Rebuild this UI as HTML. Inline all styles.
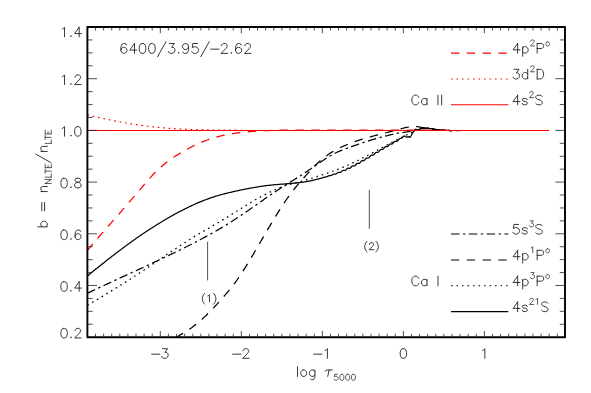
<!DOCTYPE html>
<html><head><meta charset="utf-8"><title>Departure coefficients</title>
<style>html,body{margin:0;padding:0;background:#fff}body{width:591px;height:393px;overflow:hidden;font-family:"Liberation Sans",sans-serif}svg{display:block}</style>
</head><body>
<svg width="591" height="393" viewBox="0 0 591 393">
<rect width="591" height="393" fill="#fff"/>
<defs><clipPath id="c"><rect x="87.4" y="27.0" width="477.6" height="310.2"/></clipPath></defs>
<g clip-path="url(#c)" fill="none" stroke-width="1.25" stroke-linejoin="round">
<path d="M87.4 305.3 L88.9 304.4 L90.4 303.5 L91.9 302.6 L93.4 301.7 L94.9 300.9 L96.4 300.0 L97.9 299.1 L99.4 298.2 L100.9 297.3 L102.4 296.4 L103.9 295.5 L105.4 294.6 L106.9 293.6 L108.4 292.7 L109.9 291.8 L111.4 290.9 L112.9 290.0 L114.4 289.1 L115.9 288.1 L117.4 287.2 L118.9 286.3 L120.4 285.3 L121.9 284.4 L123.4 283.5 L124.9 282.5 L126.4 281.6 L127.9 280.6 L129.4 279.6 L130.9 278.7 L132.4 277.7 L133.9 276.7 L135.4 275.8 L136.9 274.8 L138.4 273.8 L139.9 272.8 L141.4 271.8 L142.9 270.8 L144.4 269.8 L145.9 268.8 L147.4 267.8 L148.9 266.8 L150.4 265.7 L151.9 264.7 L153.4 263.7 L154.9 262.7 L156.4 261.7 L157.9 260.6 L159.4 259.6 L160.9 258.6 L162.4 257.6 L163.9 256.6 L165.4 255.5 L166.9 254.5 L168.4 253.5 L169.9 252.5 L171.4 251.5 L172.9 250.5 L174.4 249.5 L175.9 248.5 L177.4 247.5 L178.9 246.5 L180.4 245.5 L181.9 244.5 L183.4 243.5 L184.9 242.6 L186.4 241.6 L187.9 240.7 L189.4 239.7 L190.9 238.8 L192.4 237.9 L193.9 236.9 L195.4 236.0 L196.9 235.1 L198.4 234.2 L199.9 233.3 L201.4 232.4 L202.9 231.6 L204.4 230.7 L205.9 229.8 L207.4 228.9 L208.9 228.1 L210.4 227.2 L211.9 226.3 L213.4 225.4 L214.9 224.6 L216.4 223.7 L217.9 222.8 L219.4 221.9 L220.9 221.0 L222.4 220.1 L223.9 219.2 L225.4 218.3 L226.9 217.4 L228.4 216.5 L229.9 215.5 L231.4 214.6 L232.9 213.6 L234.4 212.7 L235.9 211.7 L237.4 210.8 L238.9 209.8 L240.4 208.9 L241.9 208.0 L243.4 207.0 L244.9 206.1 L246.4 205.2 L247.9 204.3 L249.4 203.4 L250.9 202.5 L252.4 201.6 L253.9 200.7 L255.4 199.8 L256.9 199.0 L258.4 198.2 L259.9 197.3 L261.4 196.5 L262.9 195.7 L264.4 194.9 L265.9 194.1 L267.4 193.4 L268.9 192.6 L270.4 191.9 L271.9 191.1 L273.4 190.4 L274.9 189.8 L276.4 189.1 L277.9 188.5 L279.4 187.8 L280.9 187.2 L282.4 186.7 L283.9 186.2 L285.4 185.7 L286.9 185.2 L288.4 184.7 L289.9 184.3 L291.4 183.9 L292.9 183.5 L294.4 183.1 L295.9 182.7 L297.4 182.3 L298.9 181.9 L300.4 181.5 L301.9 181.1 L303.4 180.7 L304.9 180.2 L306.4 179.8 L307.9 179.3 L309.4 178.9 L310.9 178.4 L312.4 178.0 L313.9 177.5 L315.4 177.0 L316.9 176.5 L318.4 176.0 L319.9 175.5 L321.4 175.1 L322.9 174.6 L324.4 174.1 L325.9 173.6 L327.4 173.1 L328.9 172.5 L330.4 172.0 L331.9 171.5 L333.4 171.0 L334.9 170.4 L336.4 169.9 L337.9 169.3 L339.4 168.7 L340.9 168.1 L342.4 167.5 L343.9 166.9 L345.4 166.3 L346.9 165.6 L348.4 165.0 L349.9 164.3 L351.4 163.6 L352.9 162.9 L354.4 162.2 L355.9 161.5 L357.4 160.7 L358.9 160.0 L360.4 159.2 L361.9 158.5 L363.4 157.7 L364.9 156.9 L366.4 156.1 L367.9 155.3 L369.4 154.5 L370.9 153.7 L372.4 152.9 L373.9 152.1 L375.4 151.3 L376.9 150.5 L378.4 149.6 L379.9 148.8 L381.4 148.0 L382.9 147.2 L384.4 146.4 L385.9 145.6 L387.4 144.7 L388.9 143.9 L390.4 143.1 L391.9 142.3 L393.4 141.5 L394.9 140.8 L396.4 140.0 L397.9 139.2 L399.1 138.6 L400.6 137.9 L402.1 137.2 L403.6 136.5 L405.1 135.8 L406.6 135.0 L408.1 134.2 L409.6 133.4 L411.1 132.6 L412.6 132.0 L414.1 131.3 L415.6 130.6 L417.1 130.0 L418.6 129.5 L420.1 129.1 L421.6 128.7 L423.1 128.4 L424.6 128.1 L426.1 128.0 L427.6 128.1 L429.1 128.3 L430.6 128.5 L432.1 128.8 L433.6 129.0 L435.1 129.3 L436.6 129.5 L438.1 129.8 L439.6 129.9 L441.1 130.0 L442.6 130.1 L444.1 130.2 L445.6 130.3 L447.1 130.4 L448.6 130.4 L450.1 130.5 L451.6 130.5 L452.0 130.5" stroke="#000" stroke-dasharray="1.6 3.9"/>
<path d="M87.4 293.3 L88.9 292.6 L90.4 291.9 L91.9 291.1 L93.4 290.4 L94.9 289.7 L96.4 289.0 L97.9 288.3 L99.4 287.6 L100.9 286.9 L102.4 286.2 L103.9 285.5 L105.4 284.8 L106.9 284.1 L108.4 283.4 L109.9 282.7 L111.4 282.0 L112.9 281.3 L114.4 280.6 L115.9 279.9 L117.4 279.2 L118.9 278.5 L120.4 277.8 L121.9 277.1 L123.4 276.4 L124.9 275.8 L126.4 275.1 L127.9 274.4 L129.4 273.7 L130.9 273.0 L132.4 272.3 L133.9 271.6 L135.4 270.9 L136.9 270.3 L138.4 269.6 L139.9 268.9 L141.4 268.2 L142.9 267.5 L144.4 266.8 L145.9 266.1 L147.4 265.4 L148.9 264.7 L150.4 264.0 L151.9 263.3 L153.4 262.6 L154.9 261.9 L156.4 261.2 L157.9 260.5 L159.4 259.8 L160.9 259.1 L162.4 258.4 L163.9 257.7 L165.4 257.0 L166.9 256.3 L168.4 255.6 L169.9 254.8 L171.4 254.1 L172.9 253.4 L174.4 252.7 L175.9 251.9 L177.4 251.2 L178.9 250.5 L180.4 249.7 L181.9 249.0 L183.4 248.3 L184.9 247.5 L186.4 246.8 L187.9 246.0 L189.4 245.2 L190.9 244.5 L192.4 243.7 L193.9 242.9 L195.4 242.2 L196.9 241.4 L198.4 240.6 L199.9 239.8 L201.4 239.0 L202.9 238.2 L204.4 237.4 L205.9 236.6 L207.4 235.8 L208.9 235.0 L210.4 234.1 L211.9 233.3 L213.4 232.4 L214.9 231.6 L216.4 230.7 L217.9 229.9 L219.4 229.0 L220.9 228.1 L222.4 227.2 L223.9 226.3 L225.4 225.4 L226.9 224.5 L228.4 223.6 L229.9 222.6 L231.4 221.7 L232.9 220.7 L234.4 219.8 L235.9 218.8 L237.4 217.8 L238.9 216.8 L240.4 215.8 L241.9 214.8 L243.4 213.8 L244.9 212.8 L246.4 211.7 L247.9 210.7 L249.4 209.7 L250.9 208.6 L252.4 207.6 L253.9 206.5 L255.4 205.5 L256.9 204.4 L258.4 203.4 L259.9 202.3 L261.4 201.2 L262.9 200.2 L264.4 199.1 L265.9 198.1 L267.4 197.0 L268.9 196.0 L270.4 195.0 L271.9 193.9 L273.4 192.9 L274.9 191.9 L276.4 190.9 L277.9 189.9 L279.4 188.9 L280.9 188.0 L282.4 187.0 L283.9 186.0 L285.4 185.1 L286.9 184.2 L288.4 183.2 L289.9 182.3 L291.4 181.4 L292.9 180.5 L294.4 179.5 L295.9 178.6 L297.4 177.7 L298.9 176.7 L300.4 175.7 L301.9 174.8 L303.4 173.8 L304.9 172.8 L306.4 171.7 L307.9 170.7 L309.4 169.7 L310.9 168.7 L312.4 167.6 L313.9 166.6 L315.4 165.5 L316.9 164.5 L318.4 163.5 L319.9 162.4 L321.4 161.4 L322.9 160.4 L324.4 159.4 L325.9 158.5 L327.4 157.5 L328.9 156.6 L330.4 155.7 L331.9 154.9 L333.4 154.0 L334.9 153.2 L336.4 152.5 L337.9 151.8 L339.4 151.2 L340.9 150.6 L342.4 150.0 L343.9 149.4 L345.4 148.8 L346.9 148.3 L348.4 147.7 L349.9 147.2 L351.4 146.7 L352.9 146.1 L354.4 145.6 L355.9 145.1 L357.4 144.6 L358.9 144.0 L360.4 143.5 L361.9 143.0 L363.4 142.5 L364.9 142.0 L366.4 141.6 L367.9 141.1 L369.4 140.6 L370.9 140.1 L372.4 139.7 L373.9 139.2 L375.4 138.8 L376.9 138.4 L378.4 137.9 L379.9 137.5 L381.4 137.1 L382.9 136.7 L384.4 136.3 L385.9 135.9 L387.4 135.6 L388.9 135.2 L390.4 134.8 L391.9 134.5 L393.4 134.2 L394.9 133.8 L396.4 133.5 L397.9 133.2 L399.1 133.0 L400.6 132.8 L402.1 132.6 L403.6 132.4 L405.1 132.1 L406.6 131.9 L408.1 131.6 L409.6 131.3 L411.1 130.9 L412.6 130.5 L414.1 130.0 L415.6 129.4 L417.1 128.9 L418.6 128.5 L420.1 128.3 L421.6 128.2 L423.1 128.2 L424.6 128.2 L426.1 128.3 L427.6 128.3 L429.1 128.4 L430.6 128.4 L432.1 128.6 L433.6 128.9 L435.1 129.2 L436.6 129.5 L438.1 129.7 L439.6 129.9 L441.1 130.0 L442.6 130.1 L444.1 130.2 L445.6 130.3 L447.1 130.4 L448.6 130.4 L450.1 130.5 L451.6 130.5 L452.0 130.5" stroke="#000" stroke-dasharray="8.5 3.5 2.4 3.4"/>
<path d="M165.0 346.0 L166.5 344.6 L168.0 343.4 L169.5 342.2 L171.0 341.0 L172.5 339.9 L174.0 338.9 L175.5 337.9 L177.0 336.9 L178.5 335.9 L180.0 335.0 L181.5 334.1 L183.0 333.2 L184.5 332.3 L186.0 331.3 L187.5 330.4 L189.0 329.4 L190.5 328.4 L192.0 327.4 L193.5 326.3 L195.0 325.1 L196.5 323.9 L198.0 322.7 L199.5 321.4 L201.0 320.1 L202.5 318.8 L204.0 317.4 L205.5 316.0 L207.0 314.5 L208.5 313.1 L210.0 311.6 L211.5 310.0 L213.0 308.5 L214.5 306.9 L216.0 305.3 L217.5 303.6 L219.0 302.0 L220.5 300.3 L222.0 298.6 L223.5 296.9 L225.0 295.2 L226.5 293.4 L228.0 291.6 L229.5 289.8 L231.0 288.0 L232.5 286.1 L234.0 284.1 L235.5 282.1 L237.0 280.0 L238.5 277.9 L240.0 275.6 L241.5 273.4 L243.0 271.1 L244.5 268.7 L246.0 266.3 L247.5 263.9 L249.0 261.4 L250.5 258.9 L252.0 256.4 L253.5 253.9 L255.0 251.3 L256.5 248.7 L258.0 246.2 L259.5 243.6 L261.0 241.0 L262.5 238.4 L264.0 235.8 L265.5 233.3 L267.0 230.7 L268.5 228.1 L270.0 225.6 L271.5 223.1 L273.0 220.6 L274.5 218.1 L276.0 215.7 L277.5 213.3 L279.0 210.9 L280.5 208.5 L282.0 206.2 L283.5 203.9 L285.0 201.7 L286.5 199.5 L288.0 197.4 L289.5 195.3 L291.0 193.3 L292.5 191.3 L294.0 189.4 L295.5 187.5 L297.0 185.7 L298.5 183.9 L300.0 182.1 L301.5 180.4 L303.0 178.6 L304.5 177.0 L306.0 175.3 L307.5 173.6 L309.0 172.0 L310.5 170.4 L312.0 168.8 L313.5 167.2 L315.0 165.7 L316.5 164.2 L318.0 162.7 L319.5 161.4 L321.0 160.0 L322.5 158.8 L324.0 157.6 L325.5 156.4 L327.0 155.4 L328.5 154.3 L330.0 153.3 L331.5 152.4 L333.0 151.5 L334.5 150.6 L336.0 149.8 L337.5 149.0 L339.0 148.2 L340.5 147.5 L342.0 146.8 L343.5 146.1 L345.0 145.5 L346.5 144.9 L348.0 144.2 L349.5 143.6 L351.0 143.1 L352.5 142.5 L354.0 142.0 L355.5 141.4 L357.0 140.9 L358.5 140.4 L360.0 139.9 L361.5 139.4 L363.0 139.0 L364.5 138.5 L366.0 138.1 L367.5 137.6 L369.0 137.2 L370.5 136.8 L372.0 136.4 L373.5 136.0 L375.0 135.6 L376.5 135.2 L378.0 134.8 L379.5 134.4 L381.0 134.0 L382.5 133.6 L384.0 133.2 L385.5 132.8 L387.0 132.5 L388.5 132.1 L390.0 131.7 L391.5 131.3 L393.0 130.9 L394.5 130.5 L396.0 130.1 L397.5 129.7 L399.0 129.3 L399.1 129.3 L400.6 128.9 L402.1 128.4 L403.6 128.1 L405.1 127.7 L406.6 127.4 L408.1 127.2 L409.6 126.9 L411.1 126.7 L412.6 126.5 L414.1 126.4 L415.6 126.4 L417.1 126.6 L418.6 126.8 L420.1 127.0 L421.6 127.3 L423.1 127.5 L424.6 127.7 L426.1 127.9 L427.6 128.1 L429.1 128.3 L430.6 128.6 L432.1 128.8 L433.6 129.1 L435.1 129.3 L436.6 129.5 L438.1 129.7 L439.6 129.9 L441.1 130.0 L442.6 130.1 L444.1 130.2 L445.6 130.3 L447.1 130.4 L448.6 130.4 L450.1 130.5 L451.6 130.5 L452.0 130.5" stroke="#000" stroke-dasharray="8.5 7.4" stroke-dashoffset="2.2"/>
<path d="M87.4 276.0 L88.0 275.5 L88.6 275.0 L89.2 274.5 L89.8 274.0 L90.4 273.5 L91.0 273.0 L91.6 272.5 L92.2 272.0 L92.8 271.6 L93.4 271.1 L94.0 270.6 L94.6 270.1 L95.2 269.6 L95.8 269.1 L96.4 268.6 L97.0 268.2 L97.6 267.7 L98.2 267.2 L98.8 266.7 L99.4 266.2 L100.0 265.7 L100.6 265.3 L101.2 264.8 L101.8 264.3 L102.4 263.8 L103.0 263.3 L103.6 262.9 L104.2 262.4 L104.8 261.9 L105.4 261.4 L106.0 261.0 L106.6 260.5 L107.2 260.0 L107.8 259.6 L108.4 259.1 L109.0 258.6 L109.6 258.2 L110.2 257.7 L110.8 257.2 L111.4 256.8 L112.0 256.3 L112.6 255.8 L113.2 255.4 L113.8 254.9 L114.4 254.4 L115.0 254.0 L115.6 253.5 L116.2 253.1 L116.8 252.6 L117.4 252.2 L118.0 251.7 L118.6 251.3 L119.2 250.8 L119.8 250.3 L120.4 249.9 L121.0 249.4 L121.6 249.0 L122.2 248.6 L122.8 248.1 L123.4 247.7 L124.0 247.2 L124.6 246.8 L125.2 246.3 L125.8 245.9 L126.4 245.4 L127.0 245.0 L127.6 244.6 L128.2 244.1 L128.8 243.7 L129.4 243.3 L130.0 242.8 L130.6 242.4 L131.2 242.0 L131.8 241.5 L132.4 241.1 L133.0 240.7 L133.6 240.3 L134.2 239.8 L134.8 239.4 L135.4 239.0 L136.0 238.6 L136.6 238.1 L137.2 237.7 L137.8 237.3 L138.4 236.9 L139.0 236.5 L139.6 236.1 L140.2 235.6 L140.8 235.2 L141.4 234.8 L142.0 234.4 L142.6 234.0 L143.2 233.6 L143.8 233.2 L144.4 232.8 L145.0 232.4 L145.6 232.0 L146.2 231.6 L146.8 231.2 L147.4 230.8 L148.0 230.4 L148.6 230.0 L149.2 229.6 L149.8 229.2 L150.4 228.8 L151.0 228.4 L151.6 228.0 L152.2 227.7 L152.8 227.3 L153.4 226.9 L154.0 226.5 L154.6 226.1 L155.2 225.8 L155.8 225.4 L156.4 225.0 L157.0 224.6 L157.6 224.2 L158.2 223.9 L158.8 223.5 L159.4 223.1 L160.0 222.8 L160.6 222.4 L161.2 222.0 L161.8 221.7 L162.4 221.3 L163.0 221.0 L163.6 220.6 L164.2 220.2 L164.8 219.9 L165.4 219.5 L166.0 219.2 L166.6 218.8 L167.2 218.5 L167.8 218.1 L168.4 217.8 L169.0 217.4 L169.6 217.1 L170.2 216.7 L170.8 216.4 L171.4 216.1 L172.0 215.7 L172.6 215.4 L173.2 215.1 L173.8 214.7 L174.4 214.4 L175.0 214.1 L175.6 213.7 L176.2 213.4 L176.8 213.1 L177.4 212.8 L178.0 212.5 L178.6 212.1 L179.2 211.8 L179.8 211.5 L180.4 211.2 L181.0 210.9 L181.6 210.6 L182.2 210.3 L182.8 210.0 L183.4 209.7 L184.0 209.4 L184.6 209.1 L185.2 208.8 L185.8 208.5 L186.4 208.2 L187.0 207.9 L187.6 207.6 L188.2 207.3 L188.8 207.0 L189.4 206.7 L190.0 206.4 L190.6 206.1 L191.2 205.9 L191.8 205.6 L192.4 205.3 L193.0 205.0 L193.6 204.8 L194.2 204.5 L194.8 204.2 L195.4 204.0 L196.0 203.7 L196.6 203.4 L197.2 203.2 L197.8 202.9 L198.4 202.7 L199.0 202.4 L199.6 202.1 L200.2 201.9 L200.8 201.7 L201.4 201.4 L202.0 201.2 L202.6 200.9 L203.2 200.7 L203.8 200.4 L204.4 200.2 L205.0 200.0 L205.6 199.8 L206.2 199.5 L206.8 199.3 L207.4 199.1 L208.0 198.9 L208.6 198.6 L209.2 198.4 L209.8 198.2 L210.4 198.0 L211.0 197.8 L211.6 197.6 L212.2 197.4 L212.8 197.2 L213.4 197.0 L214.0 196.8 L214.6 196.6 L215.2 196.4 L215.8 196.2 L216.4 196.0 L217.0 195.9 L217.6 195.7 L218.2 195.5 L218.8 195.3 L219.4 195.2 L220.0 195.0 L220.6 194.8 L221.2 194.7 L221.8 194.5 L222.4 194.3 L223.0 194.2 L223.6 194.0 L224.2 193.9 L224.8 193.7 L225.4 193.6 L226.0 193.4 L226.6 193.3 L227.2 193.1 L227.8 193.0 L228.4 192.8 L229.0 192.7 L229.6 192.5 L230.2 192.4 L230.8 192.3 L231.4 192.1 L232.0 192.0 L232.6 191.8 L233.2 191.7 L233.8 191.6 L234.4 191.4 L235.0 191.3 L235.6 191.2 L236.2 191.0 L236.8 190.9 L237.4 190.8 L238.0 190.6 L238.6 190.5 L239.2 190.4 L239.8 190.2 L240.4 190.1 L241.0 190.0 L241.6 189.9 L242.2 189.7 L242.8 189.6 L243.4 189.5 L244.0 189.4 L244.6 189.3 L245.2 189.1 L245.8 189.0 L246.4 188.9 L247.0 188.8 L247.6 188.7 L248.2 188.6 L248.8 188.4 L249.4 188.3 L250.0 188.2 L250.6 188.1 L251.2 188.0 L251.8 187.9 L252.4 187.8 L253.0 187.7 L253.6 187.6 L254.2 187.5 L254.8 187.4 L255.4 187.3 L256.0 187.2 L256.6 187.1 L257.2 187.0 L257.8 186.9 L258.4 186.8 L259.0 186.7 L259.6 186.6 L260.2 186.5 L260.8 186.4 L261.4 186.3 L262.0 186.2 L262.6 186.2 L263.2 186.1 L263.8 186.0 L264.4 185.9 L265.0 185.8 L265.6 185.7 L266.2 185.7 L266.8 185.6 L267.4 185.5 L268.0 185.4 L268.6 185.4 L269.2 185.3 L269.8 185.2 L270.4 185.2 L271.0 185.1 L271.6 185.0 L272.2 185.0 L272.8 184.9 L273.4 184.9 L274.0 184.8 L274.6 184.7 L275.2 184.7 L275.8 184.6 L276.4 184.6 L277.0 184.5 L277.6 184.5 L278.2 184.4 L278.8 184.4 L279.4 184.3 L280.0 184.3 L280.6 184.2 L281.2 184.2 L281.8 184.1 L282.4 184.1 L283.0 184.1 L283.6 184.0 L284.2 184.0 L284.8 183.9 L285.4 183.9 L286.0 183.8 L286.6 183.8 L287.2 183.7 L287.8 183.7 L288.4 183.7 L289.0 183.6 L289.6 183.6 L290.2 183.5 L290.8 183.5 L291.4 183.4 L292.0 183.4 L292.6 183.3 L293.2 183.3 L293.8 183.2 L294.4 183.1 L295.0 183.1 L295.6 183.0 L296.2 183.0 L296.8 182.9 L297.4 182.8 L298.0 182.8 L298.6 182.7 L299.2 182.6 L299.8 182.6 L300.4 182.5 L301.0 182.4 L301.6 182.3 L302.2 182.3 L302.8 182.2 L303.4 182.1 L304.0 182.0 L304.6 181.9 L305.2 181.8 L305.8 181.7 L306.4 181.6 L307.0 181.5 L307.6 181.4 L308.2 181.3 L308.8 181.2 L309.4 181.1 L310.0 180.9 L310.6 180.8 L311.2 180.7 L311.8 180.6 L312.4 180.4 L313.0 180.3 L313.6 180.1 L314.2 180.0 L314.8 179.8 L315.4 179.7 L316.0 179.5 L316.6 179.4 L317.2 179.2 L317.8 179.1 L318.4 178.9 L319.0 178.8 L319.6 178.6 L320.2 178.4 L320.8 178.3 L321.4 178.1 L322.0 178.0 L322.6 177.8 L323.2 177.6 L323.8 177.4 L324.4 177.2 L325.0 177.1 L325.6 177.0 L326.2 176.8 L326.8 176.7 L327.4 176.4 L328.0 176.2 L328.6 175.9 L329.2 175.7 L329.8 175.6 L330.4 175.6 L331.0 175.5 L331.6 175.3 L332.2 174.9 L332.8 174.6 L333.4 174.2 L334.0 174.1 L334.6 174.0 L335.2 174.0 L335.8 174.0 L336.4 173.7 L337.0 173.2 L337.6 172.8 L338.2 172.4 L338.8 172.3 L339.4 172.3 L340.0 172.4 L340.6 172.3 L341.2 171.9 L341.8 171.3 L342.4 170.8 L343.0 170.4 L343.6 170.3 L344.2 170.4 L344.8 170.5 L345.4 170.3 L346.0 169.9 L346.6 169.2 L347.2 168.5 L347.8 168.2 L348.4 168.2 L349.0 168.3 L349.6 168.3 L350.2 168.1 L350.8 167.5 L351.4 166.8 L352.0 166.2 L352.6 165.8 L353.2 165.8 L353.8 166.0 L354.4 165.9 L355.0 165.6 L355.6 165.0 L356.2 164.2 L356.8 163.6 L357.4 163.3 L358.0 163.3 L358.6 163.4 L359.2 163.4 L359.8 162.9 L360.4 162.3 L361.0 161.5 L361.6 160.9 L362.2 160.7 L362.8 160.7 L363.4 160.8 L364.0 160.6 L364.6 160.1 L365.2 159.4 L365.8 158.7 L366.4 158.1 L367.0 157.9 L367.6 158.0 L368.2 158.0 L368.8 157.8 L369.4 157.3 L370.0 156.5 L370.6 155.7 L371.2 155.3 L371.8 155.1 L372.4 155.2 L373.0 155.2 L373.6 154.9 L374.2 154.3 L374.8 153.5 L375.4 152.8 L376.0 152.4 L376.6 152.3 L377.2 152.3 L377.8 152.3 L378.4 152.0 L379.0 151.3 L379.6 150.5 L380.2 149.9 L380.8 149.5 L381.4 149.4 L382.0 149.5 L382.6 149.4 L383.2 149.1 L383.8 148.4 L384.4 147.6 L385.0 147.0 L385.6 146.7 L386.2 146.7 L386.8 146.7 L387.4 146.6 L388.0 146.2 L388.6 145.5 L389.2 144.7 L389.8 144.2 L390.4 143.9 L391.0 144.0 L391.6 144.0 L392.2 143.9 L392.8 143.5 L393.4 142.7 L394.0 142.0 L394.6 141.5 L395.2 141.3 L395.8 141.4 L396.4 141.5 L397.0 141.3 L397.6 140.8 L398.2 140.1 L398.8 139.4 L399.1 139.2 L399.7 138.6 L400.3 138.5 L400.9 138.4 L401.5 138.3 L402.1 137.8 L402.7 137.2 L403.3 136.5 L403.9 136.1 L404.5 136.0 L405.1 136.3 L405.7 136.7 L406.3 137.1 L406.9 137.1 L407.5 136.9 L408.1 136.7 L408.7 136.7 L409.3 137.4 L409.9 137.3 L410.5 136.7 L411.1 135.7 L411.7 134.6 L412.3 133.4 L412.9 132.4 L413.5 131.5 L414.1 131.1 L414.7 130.8 L415.3 130.5 L415.9 130.3 L416.5 130.0 L417.1 129.8 L417.7 129.7 L418.3 129.5 L418.9 129.4 L419.5 129.2 L420.1 129.1 L420.7 129.0 L421.3 128.8 L421.9 128.7 L422.5 128.5 L423.1 128.4 L423.7 128.3 L424.3 128.2 L424.9 128.1 L425.5 128.0 L426.1 128.0 L426.7 128.0 L427.3 128.0 L427.9 128.1 L428.5 128.2 L429.1 128.3 L429.7 128.4 L430.3 128.5 L430.9 128.6 L431.5 128.7 L432.1 128.8 L432.7 128.9 L433.3 129.0 L433.9 129.1 L434.5 129.2 L435.1 129.3 L435.7 129.4 L436.3 129.5 L436.9 129.6 L437.5 129.7 L438.1 129.8 L438.7 129.8 L439.3 129.9 L439.9 129.9 L440.5 130.0 L441.1 130.0 L441.7 130.1 L442.3 130.1 L442.9 130.2 L443.5 130.2 L444.1 130.2 L444.7 130.3 L445.3 130.3 L445.9 130.3 L446.5 130.4 L447.1 130.4 L447.7 130.4 L448.3 130.4 L448.9 130.5 L449.5 130.5 L450.1 130.5 L450.7 130.5 L451.3 130.5 L451.9 130.5 L452.0 130.5" stroke="#000"/>
<path d="M87.4 114.8 L88.9 115.2 L90.4 115.5 L91.9 115.9 L93.4 116.3 L94.9 116.6 L96.4 117.0 L97.9 117.3 L99.4 117.7 L100.9 118.0 L102.4 118.3 L103.9 118.7 L105.4 119.0 L106.9 119.3 L108.4 119.6 L109.9 119.9 L111.4 120.2 L112.9 120.5 L114.4 120.8 L115.9 121.1 L117.4 121.4 L118.9 121.7 L120.4 122.0 L121.9 122.3 L123.4 122.5 L124.9 122.8 L126.4 123.0 L127.9 123.3 L129.4 123.6 L130.9 123.8 L132.4 124.0 L133.9 124.3 L135.4 124.5 L136.9 124.7 L138.4 124.9 L139.9 125.2 L141.4 125.4 L142.9 125.6 L144.4 125.8 L145.9 126.0 L147.4 126.2 L148.9 126.3 L150.4 126.5 L151.9 126.7 L153.4 126.9 L154.9 127.0 L156.4 127.2 L157.9 127.4 L159.4 127.5 L160.9 127.6 L162.4 127.8 L163.9 127.9 L165.4 128.0 L166.9 128.2 L168.4 128.3 L169.9 128.4 L171.4 128.5 L172.9 128.6 L174.4 128.7 L175.9 128.8 L177.4 128.9 L178.9 129.0 L180.4 129.0 L181.9 129.1 L183.4 129.2 L184.9 129.2 L186.4 129.3 L186.7 129.3 L188.2 129.4 L189.7 129.4 L191.2 129.5 L192.7 129.5 L194.2 129.5 L195.7 129.6 L197.2 129.6 L198.7 129.7 L200.2 129.7 L201.7 129.7 L203.2 129.8 L204.7 129.8 L206.2 129.8 L207.7 129.9 L209.2 129.9 L210.7 129.9 L212.2 130.0 L213.7 130.0 L215.2 130.0 L216.7 130.0 L218.2 130.0 L219.7 130.1 L221.2 130.1 L222.7 130.1 L224.2 130.1 L225.7 130.1 L227.2 130.1 L228.7 130.1 L230.2 130.1 L231.7 130.2 L233.2 130.2 L234.7 130.2 L236.2 130.2 L237.7 130.2 L239.2 130.3 L240.7 130.3 L242.2 130.3 L243.7 130.4 L245.2 130.4 L246.7 130.4 L248.2 130.5 L249.7 130.5 L250.0 130.5" stroke="#f00" stroke-dasharray="1.6 3.9"/>
<path d="M87.4 250.6 L88.9 248.7 L90.4 246.8 L91.9 245.0 L93.4 243.2 L94.9 241.5 L96.4 239.7 L97.9 238.0 L99.4 236.2 L100.9 234.5 L102.4 232.8 L103.9 231.1 L105.4 229.4 L106.9 227.7 L108.4 226.0 L109.9 224.3 L111.4 222.6 L112.9 220.9 L114.4 219.2 L115.9 217.5 L117.4 215.8 L118.9 214.1 L120.4 212.3 L121.9 210.6 L123.4 208.9 L124.9 207.1 L126.4 205.4 L127.9 203.6 L129.4 201.9 L130.9 200.1 L132.4 198.4 L133.9 196.6 L135.4 194.9 L136.9 193.1 L138.4 191.4 L139.9 189.6 L141.4 187.9 L142.9 186.1 L144.4 184.4 L145.9 182.6 L147.4 180.9 L148.9 179.2 L150.4 177.6 L151.9 175.9 L153.4 174.3 L154.9 172.8 L156.4 171.2 L157.9 169.8 L159.4 168.3 L160.9 167.0 L162.4 165.7 L163.9 164.4 L165.4 163.2 L166.9 162.0 L168.4 160.9 L169.9 159.8 L171.4 158.7 L172.9 157.7 L174.4 156.7 L175.9 155.8 L177.4 154.9 L178.9 153.9 L180.4 153.0 L181.9 152.2 L183.4 151.3 L184.9 150.4 L186.4 149.6 L187.9 148.8 L189.4 148.0 L190.9 147.2 L192.4 146.4 L193.9 145.7 L195.4 145.0 L196.9 144.3 L198.4 143.6 L199.9 142.9 L201.4 142.3 L202.9 141.7 L204.4 141.1 L205.9 140.5 L207.4 140.0 L208.9 139.4 L210.4 138.9 L211.9 138.4 L213.4 138.0 L214.9 137.5 L216.4 137.1 L217.9 136.7 L219.4 136.3 L220.9 135.9 L222.4 135.6 L223.9 135.2 L225.4 134.9 L226.9 134.6 L228.4 134.3 L229.9 134.1 L231.4 133.8 L232.9 133.6 L234.4 133.4 L235.9 133.1 L237.4 132.9 L238.9 132.7 L240.4 132.6 L241.9 132.4 L243.4 132.2 L244.9 132.1 L246.4 131.9 L247.9 131.8 L249.4 131.7 L250.9 131.6 L252.4 131.4 L253.9 131.3 L255.4 131.2 L256.9 131.1 L258.4 131.0 L259.9 130.9 L261.4 130.8 L262.7 130.7 L264.2 130.7 L265.7 130.6 L267.2 130.6 L268.7 130.5 L270.2 130.5 L271.7 130.4 L273.2 130.4 L274.7 130.3 L276.2 130.3 L277.7 130.2 L279.2 130.2 L280.7 130.2 L282.2 130.1 L283.7 130.1 L285.2 130.1 L286.7 130.1 L288.2 130.1 L289.7 130.1 L291.2 130.0 L292.7 130.0 L294.2 130.0 L295.7 130.0 L297.2 130.0 L298.7 130.0 L300.2 130.0 L301.7 130.0 L303.2 130.0 L304.7 130.0 L306.2 130.0 L307.7 130.0 L309.2 130.0 L310.7 130.0 L312.2 130.0 L313.7 130.0 L315.2 130.0 L316.7 130.0 L318.2 130.0 L319.7 130.0 L321.2 130.0 L322.7 130.0 L324.2 130.0 L325.7 130.0 L327.2 130.0 L328.7 130.0 L330.2 130.0 L331.7 130.0 L333.2 130.0 L334.7 130.0 L336.2 130.0 L337.7 130.0 L339.2 130.0 L340.7 130.0 L342.2 130.0 L343.7 130.0 L345.2 130.0 L346.7 130.0 L348.2 130.0 L349.7 130.0 L351.2 130.0 L352.7 130.0 L354.2 130.0 L355.7 130.0 L357.2 130.0 L358.7 130.0 L360.2 130.0 L361.7 130.0 L363.2 130.0 L364.7 130.0 L366.2 130.0 L367.7 130.0 L369.2 130.0 L370.7 130.0 L372.2 130.0 L373.7 130.0 L375.2 130.0 L376.7 130.0 L378.2 130.0 L379.7 130.0 L381.2 130.0 L382.7 130.0 L384.2 130.0 L385.7 130.0 L387.2 130.0 L388.7 130.0 L390.2 130.0 L391.7 130.0 L393.2 130.0 L394.7 130.0 L396.2 130.0 L397.7 130.0 L399.2 130.0 L400.7 130.0 L402.2 130.0 L403.7 130.0 L405.2 130.0 L406.7 130.0 L408.2 130.0 L409.7 130.0 L411.2 130.0 L412.7 130.0 L414.2 130.1 L415.7 130.1 L417.2 130.1 L418.7 130.1 L420.2 130.1 L421.7 130.1 L423.2 130.1 L424.7 130.2 L426.2 130.2 L427.7 130.2 L429.2 130.2 L430.7 130.2 L432.2 130.2 L433.7 130.2 L435.2 130.3 L436.7 130.3 L438.2 130.3 L439.7 130.3 L441.2 130.3 L442.7 130.3 L444.2 130.3 L445.7 130.4 L447.2 130.4 L448.7 130.4 L450.2 130.4 L451.7 130.4 L453.2 130.4 L454.7 130.4 L456.2 130.5 L457.7 130.5 L459.2 130.5 L460.0 130.5" stroke="#f00" stroke-dasharray="8.5 7.4" stroke-dashoffset="0.0"/>
<path d="M88 130.5 L549.0 130.5" stroke="#f00" stroke-width="1.15"/>
</g>
<path d="M207.6 241.7 V280.4 M369.3 189.9 V228.7" stroke="#222" stroke-width="0.8" fill="none"/>
<rect x="87.4" y="27.0" width="477.6" height="310.2" fill="none" stroke="#000" stroke-width="1.9" stroke-linejoin="round"/>
<path d="M95.50 337.2 v-3.5 M95.50 27.0 v3.5 M103.60 337.2 v-3.5 M103.60 27.0 v3.5 M111.71 337.2 v-3.5 M111.71 27.0 v3.5 M119.81 337.2 v-3.5 M119.81 27.0 v3.5 M127.91 337.2 v-3.5 M127.91 27.0 v3.5 M136.01 337.2 v-3.5 M136.01 27.0 v3.5 M144.11 337.2 v-3.5 M144.11 27.0 v3.5 M152.22 337.2 v-3.5 M152.22 27.0 v3.5 M160.32 337.2 v-6.2 M160.32 27.0 v6.2 M168.42 337.2 v-3.5 M168.42 27.0 v3.5 M176.52 337.2 v-3.5 M176.52 27.0 v3.5 M184.62 337.2 v-3.5 M184.62 27.0 v3.5 M192.73 337.2 v-3.5 M192.73 27.0 v3.5 M200.83 337.2 v-3.5 M200.83 27.0 v3.5 M208.93 337.2 v-3.5 M208.93 27.0 v3.5 M217.03 337.2 v-3.5 M217.03 27.0 v3.5 M225.13 337.2 v-3.5 M225.13 27.0 v3.5 M233.24 337.2 v-3.5 M233.24 27.0 v3.5 M241.34 337.2 v-6.2 M241.34 27.0 v6.2 M249.44 337.2 v-3.5 M249.44 27.0 v3.5 M257.54 337.2 v-3.5 M257.54 27.0 v3.5 M265.64 337.2 v-3.5 M265.64 27.0 v3.5 M273.75 337.2 v-3.5 M273.75 27.0 v3.5 M281.85 337.2 v-3.5 M281.85 27.0 v3.5 M289.95 337.2 v-3.5 M289.95 27.0 v3.5 M298.05 337.2 v-3.5 M298.05 27.0 v3.5 M306.15 337.2 v-3.5 M306.15 27.0 v3.5 M314.26 337.2 v-3.5 M314.26 27.0 v3.5 M322.36 337.2 v-6.2 M322.36 27.0 v6.2 M330.46 337.2 v-3.5 M330.46 27.0 v3.5 M338.56 337.2 v-3.5 M338.56 27.0 v3.5 M346.66 337.2 v-3.5 M346.66 27.0 v3.5 M354.77 337.2 v-3.5 M354.77 27.0 v3.5 M362.87 337.2 v-3.5 M362.87 27.0 v3.5 M370.97 337.2 v-3.5 M370.97 27.0 v3.5 M379.07 337.2 v-3.5 M379.07 27.0 v3.5 M387.17 337.2 v-3.5 M387.17 27.0 v3.5 M395.28 337.2 v-3.5 M395.28 27.0 v3.5 M403.38 337.2 v-6.2 M403.38 27.0 v6.2 M411.48 337.2 v-3.5 M411.48 27.0 v3.5 M419.58 337.2 v-3.5 M419.58 27.0 v3.5 M427.68 337.2 v-3.5 M427.68 27.0 v3.5 M435.79 337.2 v-3.5 M435.79 27.0 v3.5 M443.89 337.2 v-3.5 M443.89 27.0 v3.5 M451.99 337.2 v-3.5 M451.99 27.0 v3.5 M460.09 337.2 v-3.5 M460.09 27.0 v3.5 M468.19 337.2 v-3.5 M468.19 27.0 v3.5 M476.30 337.2 v-3.5 M476.30 27.0 v3.5 M484.40 337.2 v-6.2 M484.40 27.0 v6.2 M492.50 337.2 v-3.5 M492.50 27.0 v3.5 M500.60 337.2 v-3.5 M500.60 27.0 v3.5 M508.70 337.2 v-3.5 M508.70 27.0 v3.5 M516.81 337.2 v-3.5 M516.81 27.0 v3.5 M524.91 337.2 v-3.5 M524.91 27.0 v3.5 M533.01 337.2 v-3.5 M533.01 27.0 v3.5 M541.11 337.2 v-3.5 M541.11 27.0 v3.5 M549.21 337.2 v-3.5 M549.21 27.0 v3.5 M557.32 337.2 v-3.5 M557.32 27.0 v3.5 M87.4 324.27 h5.2 M565.0 324.27 h-5.2 M87.4 311.35 h5.2 M565.0 311.35 h-5.2 M87.4 298.42 h5.2 M565.0 298.42 h-5.2 M87.4 285.50 h9.6 M565.0 285.50 h-9.6 M87.4 272.58 h5.2 M565.0 272.58 h-5.2 M87.4 259.65 h5.2 M565.0 259.65 h-5.2 M87.4 246.72 h5.2 M565.0 246.72 h-5.2 M87.4 233.80 h9.6 M565.0 233.80 h-9.6 M87.4 220.87 h5.2 M565.0 220.87 h-5.2 M87.4 207.95 h5.2 M565.0 207.95 h-5.2 M87.4 195.02 h5.2 M565.0 195.02 h-5.2 M87.4 182.10 h9.6 M565.0 182.10 h-9.6 M87.4 169.17 h5.2 M565.0 169.17 h-5.2 M87.4 156.25 h5.2 M565.0 156.25 h-5.2 M87.4 143.32 h5.2 M565.0 143.32 h-5.2 M87.4 130.40 h9.6 M565.0 130.40 h-9.6 M87.4 117.47 h5.2 M565.0 117.47 h-5.2 M87.4 104.55 h5.2 M565.0 104.55 h-5.2 M87.4 91.62 h5.2 M565.0 91.62 h-5.2 M87.4 78.70 h9.6 M565.0 78.70 h-9.6 M87.4 65.77 h5.2 M565.0 65.77 h-5.2 M87.4 52.85 h5.2 M565.0 52.85 h-5.2 M87.4 39.92 h5.2 M565.0 39.92 h-5.2" stroke="#222" stroke-width="0.8" fill="none"/>
<g fill="none" stroke="#1c1c1c" stroke-width="0.88" stroke-linecap="round" stroke-linejoin="round">
<path transform="translate(82.40 36.80)" d="M-20.15 -7.79 L-19.24 -8.24 L-17.86 -9.62 L-17.86 0.00 M-11.45 -0.92 L-11.91 -0.46 L-11.45 0.00 L-10.99 -0.46 L-11.45 -0.92 M-3.21 -9.62 L-7.79 -3.21 L-0.92 -3.21 M-3.21 -9.62 L-3.21 0.00"/>
<path transform="translate(82.40 84.50)" d="M-20.15 -7.79 L-19.24 -8.24 L-17.86 -9.62 L-17.86 0.00 M-11.45 -0.92 L-11.91 -0.46 L-11.45 0.00 L-10.99 -0.46 L-11.45 -0.92 M-7.33 -7.33 L-7.33 -7.79 L-6.87 -8.70 L-6.41 -9.16 L-5.50 -9.62 L-3.66 -9.62 L-2.75 -9.16 L-2.29 -8.70 L-1.83 -7.79 L-1.83 -6.87 L-2.29 -5.95 L-3.21 -4.58 L-7.79 0.00 L-1.37 0.00"/>
<path transform="translate(82.40 136.20)" d="M-20.15 -7.79 L-19.24 -8.24 L-17.86 -9.62 L-17.86 0.00 M-11.45 -0.92 L-11.91 -0.46 L-11.45 0.00 L-10.99 -0.46 L-11.45 -0.92 M-5.04 -9.62 L-6.41 -9.16 L-7.33 -7.79 L-7.79 -5.50 L-7.79 -4.12 L-7.33 -1.83 L-6.41 -0.46 L-5.04 0.00 L-4.12 0.00 L-2.75 -0.46 L-1.83 -1.83 L-1.37 -4.12 L-1.37 -5.50 L-1.83 -7.79 L-2.75 -9.16 L-4.12 -9.62 L-5.04 -9.62"/>
<path transform="translate(82.40 187.90)" d="M-18.78 -9.62 L-20.15 -9.16 L-21.07 -7.79 L-21.53 -5.50 L-21.53 -4.12 L-21.07 -1.83 L-20.15 -0.46 L-18.78 0.00 L-17.86 0.00 L-16.49 -0.46 L-15.57 -1.83 L-15.11 -4.12 L-15.11 -5.50 L-15.57 -7.79 L-16.49 -9.16 L-17.86 -9.62 L-18.78 -9.62 M-11.45 -0.92 L-11.91 -0.46 L-11.45 0.00 L-10.99 -0.46 L-11.45 -0.92 M-5.50 -9.62 L-6.87 -9.16 L-7.33 -8.24 L-7.33 -7.33 L-6.87 -6.41 L-5.95 -5.95 L-4.12 -5.50 L-2.75 -5.04 L-1.83 -4.12 L-1.37 -3.21 L-1.37 -1.83 L-1.83 -0.92 L-2.29 -0.46 L-3.66 0.00 L-5.50 0.00 L-6.87 -0.46 L-7.33 -0.92 L-7.79 -1.83 L-7.79 -3.21 L-7.33 -4.12 L-6.41 -5.04 L-5.04 -5.50 L-3.21 -5.95 L-2.29 -6.41 L-1.83 -7.33 L-1.83 -8.24 L-2.29 -9.16 L-3.66 -9.62 L-5.50 -9.62"/>
<path transform="translate(82.40 239.60)" d="M-18.78 -9.62 L-20.15 -9.16 L-21.07 -7.79 L-21.53 -5.50 L-21.53 -4.12 L-21.07 -1.83 L-20.15 -0.46 L-18.78 0.00 L-17.86 0.00 L-16.49 -0.46 L-15.57 -1.83 L-15.11 -4.12 L-15.11 -5.50 L-15.57 -7.79 L-16.49 -9.16 L-17.86 -9.62 L-18.78 -9.62 M-11.45 -0.92 L-11.91 -0.46 L-11.45 0.00 L-10.99 -0.46 L-11.45 -0.92 M-1.83 -8.24 L-2.29 -9.16 L-3.66 -9.62 L-4.58 -9.62 L-5.95 -9.16 L-6.87 -7.79 L-7.33 -5.50 L-7.33 -3.21 L-6.87 -1.37 L-5.95 -0.46 L-4.58 0.00 L-4.12 0.00 L-2.75 -0.46 L-1.83 -1.37 L-1.37 -2.75 L-1.37 -3.21 L-1.83 -4.58 L-2.75 -5.50 L-4.12 -5.95 L-4.58 -5.95 L-5.95 -5.50 L-6.87 -4.58 L-7.33 -3.21"/>
<path transform="translate(82.40 291.30)" d="M-18.78 -9.62 L-20.15 -9.16 L-21.07 -7.79 L-21.53 -5.50 L-21.53 -4.12 L-21.07 -1.83 L-20.15 -0.46 L-18.78 0.00 L-17.86 0.00 L-16.49 -0.46 L-15.57 -1.83 L-15.11 -4.12 L-15.11 -5.50 L-15.57 -7.79 L-16.49 -9.16 L-17.86 -9.62 L-18.78 -9.62 M-11.45 -0.92 L-11.91 -0.46 L-11.45 0.00 L-10.99 -0.46 L-11.45 -0.92 M-3.21 -9.62 L-7.79 -3.21 L-0.92 -3.21 M-3.21 -9.62 L-3.21 0.00"/>
<path transform="translate(82.40 338.00)" d="M-18.78 -9.62 L-20.15 -9.16 L-21.07 -7.79 L-21.53 -5.50 L-21.53 -4.12 L-21.07 -1.83 L-20.15 -0.46 L-18.78 0.00 L-17.86 0.00 L-16.49 -0.46 L-15.57 -1.83 L-15.11 -4.12 L-15.11 -5.50 L-15.57 -7.79 L-16.49 -9.16 L-17.86 -9.62 L-18.78 -9.62 M-11.45 -0.92 L-11.91 -0.46 L-11.45 0.00 L-10.99 -0.46 L-11.45 -0.92 M-7.33 -7.33 L-7.33 -7.79 L-6.87 -8.70 L-6.41 -9.16 L-5.50 -9.62 L-3.66 -9.62 L-2.75 -9.16 L-2.29 -8.70 L-1.83 -7.79 L-1.83 -6.87 L-2.29 -5.95 L-3.21 -4.58 L-7.79 0.00 L-1.37 0.00"/>
<path transform="translate(160.32 358.30)" d="M-8.70 -4.12 L-0.46 -4.12 M2.29 -9.62 L7.33 -9.62 L4.58 -5.95 L5.95 -5.95 L6.87 -5.50 L7.33 -5.04 L7.79 -3.66 L7.79 -2.75 L7.33 -1.37 L6.41 -0.46 L5.04 0.00 L3.66 0.00 L2.29 -0.46 L1.83 -0.92 L1.37 -1.83"/>
<path transform="translate(241.34 358.30)" d="M-8.70 -4.12 L-0.46 -4.12 M1.83 -7.33 L1.83 -7.79 L2.29 -8.70 L2.75 -9.16 L3.66 -9.62 L5.50 -9.62 L6.41 -9.16 L6.87 -8.70 L7.33 -7.79 L7.33 -6.87 L6.87 -5.95 L5.95 -4.58 L1.37 0.00 L7.79 0.00"/>
<path transform="translate(322.36 358.30)" d="M-8.70 -4.12 L-0.46 -4.12 M2.75 -7.79 L3.66 -8.24 L5.04 -9.62 L5.04 0.00"/>
<path transform="translate(403.38 358.30)" d="M-0.46 -9.62 L-1.83 -9.16 L-2.75 -7.79 L-3.21 -5.50 L-3.21 -4.12 L-2.75 -1.83 L-1.83 -0.46 L-0.46 0.00 L0.46 0.00 L1.83 -0.46 L2.75 -1.83 L3.21 -4.12 L3.21 -5.50 L2.75 -7.79 L1.83 -9.16 L0.46 -9.62 L-0.46 -9.62"/>
<path transform="translate(484.40 358.30)" d="M-1.83 -7.79 L-0.92 -8.24 L0.46 -9.62 L0.46 0.00"/>
<path transform="translate(326.00 376.40)" d="M-28.49 -9.62 L-28.49 0.00 M-22.99 -6.41 L-23.91 -5.95 L-24.82 -5.04 L-25.28 -3.66 L-25.28 -2.75 L-24.82 -1.37 L-23.91 -0.46 L-22.99 0.00 L-21.62 0.00 L-20.70 -0.46 L-19.79 -1.37 L-19.33 -2.75 L-19.33 -3.66 L-19.79 -5.04 L-20.70 -5.95 L-21.62 -6.41 L-22.99 -6.41 M-11.08 -6.41 L-11.08 0.92 L-11.54 2.29 L-12.00 2.75 L-12.92 3.21 L-14.29 3.21 L-15.21 2.75 M-11.08 -5.04 L-12.00 -5.95 L-12.92 -6.41 L-14.29 -6.41 L-15.21 -5.95 L-16.12 -5.04 L-16.58 -3.66 L-16.58 -2.75 L-16.12 -1.37 L-15.21 -0.46 L-14.29 0.00 L-12.92 0.00 L-12.00 -0.46 L-11.08 -1.37 M3.11 -6.41 L1.74 0.00 M-1.01 -5.04 L-0.09 -5.95 L1.28 -6.41 L6.32 -6.41"/><path transform="translate(326.00 376.40)" stroke-width="0.72" d="M11.56 -2.12 L8.68 -2.12 L8.39 0.48 L8.68 0.19 L9.54 -0.10 L10.41 -0.10 L11.28 0.19 L11.85 0.76 L12.14 1.63 L12.14 2.21 L11.85 3.07 L11.28 3.65 L10.41 3.94 L9.54 3.94 L8.68 3.65 L8.39 3.36 L8.10 2.78 M15.60 -2.12 L14.74 -1.83 L14.16 -0.97 L13.87 0.48 L13.87 1.34 L14.16 2.78 L14.74 3.65 L15.60 3.94 L16.18 3.94 L17.05 3.65 L17.62 2.78 L17.91 1.34 L17.91 0.48 L17.62 -0.97 L17.05 -1.83 L16.18 -2.12 L15.60 -2.12 M21.37 -2.12 L20.51 -1.83 L19.93 -0.97 L19.64 0.48 L19.64 1.34 L19.93 2.78 L20.51 3.65 L21.37 3.94 L21.95 3.94 L22.82 3.65 L23.39 2.78 L23.68 1.34 L23.68 0.48 L23.39 -0.97 L22.82 -1.83 L21.95 -2.12 L21.37 -2.12 M27.15 -2.12 L26.28 -1.83 L25.70 -0.97 L25.41 0.48 L25.41 1.34 L25.70 2.78 L26.28 3.65 L27.15 3.94 L27.72 3.94 L28.59 3.65 L29.17 2.78 L29.45 1.34 L29.45 0.48 L29.17 -0.97 L28.59 -1.83 L27.72 -2.12 L27.15 -2.12"/>
<path transform="translate(47.30 228.65) rotate(-90)" d="M1.83 -9.62 L1.83 0.00 M1.83 -5.04 L2.75 -5.95 L3.66 -6.41 L5.04 -6.41 L5.95 -5.95 L6.87 -5.04 L7.33 -3.66 L7.33 -2.75 L6.87 -1.37 L5.95 -0.46 L5.04 0.00 L3.66 0.00 L2.75 -0.46 L1.83 -1.37 M17.86 -5.50 L26.11 -5.50 M17.86 -2.75 L26.11 -2.75 M37.10 -6.41 L37.10 0.00 M37.10 -4.58 L38.47 -5.95 L39.39 -6.41 L40.76 -6.41 L41.68 -5.95 L42.14 -4.58 L42.14 0.00 M74.48 -11.45 L66.24 3.21 M77.23 -6.41 L77.23 0.00 M77.23 -4.58 L78.60 -5.95 L79.52 -6.41 L80.89 -6.41 L81.81 -5.95 L82.27 -4.58 L82.27 0.00"/><path transform="translate(47.30 228.65) rotate(-90)" stroke-width="0.72" d="M45.12 -2.12 L45.12 3.94 M45.12 -2.12 L49.16 3.94 M49.16 -2.12 L49.16 3.94 M51.47 -2.12 L51.47 3.94 M51.47 3.94 L54.93 3.94 M57.53 -2.12 L57.53 3.94 M55.51 -2.12 L59.55 -2.12 M60.99 -2.12 L60.99 3.94 M60.99 -2.12 L64.74 -2.12 M60.99 0.76 L63.30 0.76 M60.99 3.94 L64.74 3.94 M85.25 -2.12 L85.25 3.94 M85.25 3.94 L88.71 3.94 M91.31 -2.12 L91.31 3.94 M89.29 -2.12 L93.33 -2.12 M94.77 -2.12 L94.77 3.94 M94.77 -2.12 L98.52 -2.12 M94.77 0.76 L97.08 0.76 M94.77 3.94 L98.52 3.94"/>
<path transform="translate(119.00 53.40)" d="M7.52 -8.46 L7.05 -9.40 L5.64 -9.87 L4.70 -9.87 L3.29 -9.40 L2.35 -7.99 L1.88 -5.64 L1.88 -3.29 L2.35 -1.41 L3.29 -0.47 L4.70 0.00 L5.17 0.00 L6.58 -0.47 L7.52 -1.41 L7.99 -2.82 L7.99 -3.29 L7.52 -4.70 L6.58 -5.64 L5.17 -6.11 L4.70 -6.11 L3.29 -5.64 L2.35 -4.70 L1.88 -3.29 M15.51 -9.87 L10.81 -3.29 L17.86 -3.29 M15.51 -9.87 L15.51 0.00 M23.03 -9.87 L21.62 -9.40 L20.68 -7.99 L20.21 -5.64 L20.21 -4.23 L20.68 -1.88 L21.62 -0.47 L23.03 0.00 L23.97 0.00 L25.38 -0.47 L26.32 -1.88 L26.79 -4.23 L26.79 -5.64 L26.32 -7.99 L25.38 -9.40 L23.97 -9.87 L23.03 -9.87 M32.43 -9.87 L31.02 -9.40 L30.08 -7.99 L29.61 -5.64 L29.61 -4.23 L30.08 -1.88 L31.02 -0.47 L32.43 0.00 L33.37 0.00 L34.78 -0.47 L35.72 -1.88 L36.19 -4.23 L36.19 -5.64 L35.72 -7.99 L34.78 -9.40 L33.37 -9.87 L32.43 -9.87 M47.00 -11.75 L38.54 3.29 M50.29 -9.87 L55.46 -9.87 L52.64 -6.11 L54.05 -6.11 L54.99 -5.64 L55.46 -5.17 L55.93 -3.76 L55.93 -2.82 L55.46 -1.41 L54.52 -0.47 L53.11 0.00 L51.70 0.00 L50.29 -0.47 L49.82 -0.94 L49.35 -1.88 M59.69 -0.94 L59.22 -0.47 L59.69 0.00 L60.16 -0.47 L59.69 -0.94 M69.56 -6.58 L69.09 -5.17 L68.15 -4.23 L66.74 -3.76 L66.27 -3.76 L64.86 -4.23 L63.92 -5.17 L63.45 -6.58 L63.45 -7.05 L63.92 -8.46 L64.86 -9.40 L66.27 -9.87 L66.74 -9.87 L68.15 -9.40 L69.09 -8.46 L69.56 -6.58 L69.56 -4.23 L69.09 -1.88 L68.15 -0.47 L66.74 0.00 L65.80 0.00 L64.39 -0.47 L63.92 -1.41 M78.49 -9.87 L73.79 -9.87 L73.32 -5.64 L73.79 -6.11 L75.20 -6.58 L76.61 -6.58 L78.02 -6.11 L78.96 -5.17 L79.43 -3.76 L79.43 -2.82 L78.96 -1.41 L78.02 -0.47 L76.61 0.00 L75.20 0.00 L73.79 -0.47 L73.32 -0.94 L72.85 -1.88 M90.24 -11.75 L81.78 3.29 M91.65 -4.23 L100.11 -4.23 M102.46 -7.52 L102.46 -7.99 L102.93 -8.93 L103.40 -9.40 L104.34 -9.87 L106.22 -9.87 L107.16 -9.40 L107.63 -8.93 L108.10 -7.99 L108.10 -7.05 L107.63 -6.11 L106.69 -4.70 L101.99 0.00 L108.57 0.00 M112.33 -0.94 L111.86 -0.47 L112.33 0.00 L112.80 -0.47 L112.33 -0.94 M122.20 -8.46 L121.73 -9.40 L120.32 -9.87 L119.38 -9.87 L117.97 -9.40 L117.03 -7.99 L116.56 -5.64 L116.56 -3.29 L117.03 -1.41 L117.97 -0.47 L119.38 0.00 L119.85 0.00 L121.26 -0.47 L122.20 -1.41 L122.67 -2.82 L122.67 -3.29 L122.20 -4.70 L121.26 -5.64 L119.85 -6.11 L119.38 -6.11 L117.97 -5.64 L117.03 -4.70 L116.56 -3.29 M125.96 -7.52 L125.96 -7.99 L126.43 -8.93 L126.90 -9.40 L127.84 -9.87 L129.72 -9.87 L130.66 -9.40 L131.13 -8.93 L131.60 -7.99 L131.60 -7.05 L131.13 -6.11 L130.19 -4.70 L125.49 0.00 L132.07 0.00"/>
<path transform="translate(511.70 53.10)" d="M5.95 -9.62 L1.37 -3.21 L8.24 -3.21 M5.95 -9.62 L5.95 0.00 M10.99 -6.41 L10.99 3.21 M10.99 -5.04 L11.91 -5.95 L12.82 -6.41 L14.20 -6.41 L15.11 -5.95 L16.03 -5.04 L16.49 -3.66 L16.49 -2.75 L16.03 -1.37 L15.11 -0.46 L14.20 0.00 L12.82 0.00 L11.91 -0.46 L10.99 -1.37 M25.46 -9.62 L25.46 0.00 M25.46 -9.62 L29.59 -9.62 L30.96 -9.16 L31.42 -8.70 L31.88 -7.79 L31.88 -6.41 L31.42 -5.50 L30.96 -5.04 L29.59 -4.58 L25.46 -4.58"/><path transform="translate(511.70 53.10)" stroke-width="0.72" d="M19.02 -11.76 L19.02 -12.05 L19.30 -12.63 L19.59 -12.92 L20.17 -13.20 L21.32 -13.20 L21.90 -12.92 L22.19 -12.63 L22.48 -12.05 L22.48 -11.47 L22.19 -10.90 L21.61 -10.03 L18.73 -7.14 L22.77 -7.14 M35.56 -11.18 L34.98 -10.90 L34.40 -10.32 L34.12 -9.45 L34.12 -8.88 L34.40 -8.01 L34.98 -7.43 L35.56 -7.14 L36.42 -7.14 L37.00 -7.43 L37.58 -8.01 L37.87 -8.88 L37.87 -9.45 L37.58 -10.32 L37.00 -10.90 L36.42 -11.18 L35.56 -11.18"/>
<path transform="translate(511.70 78.95)" d="M2.29 -9.62 L7.33 -9.62 L4.58 -5.95 L5.95 -5.95 L6.87 -5.50 L7.33 -5.04 L7.79 -3.66 L7.79 -2.75 L7.33 -1.37 L6.41 -0.46 L5.04 0.00 L3.66 0.00 L2.29 -0.46 L1.83 -0.92 L1.37 -1.83 M16.03 -9.62 L16.03 0.00 M16.03 -5.04 L15.11 -5.95 L14.20 -6.41 L12.82 -6.41 L11.91 -5.95 L10.99 -5.04 L10.53 -3.66 L10.53 -2.75 L10.99 -1.37 L11.91 -0.46 L12.82 0.00 L14.20 0.00 L15.11 -0.46 L16.03 -1.37 M25.46 -9.62 L25.46 0.00 M25.46 -9.62 L28.67 -9.62 L30.04 -9.16 L30.96 -8.24 L31.42 -7.33 L31.88 -5.95 L31.88 -3.66 L31.42 -2.29 L30.96 -1.37 L30.04 -0.46 L28.67 0.00 L25.46 0.00"/><path transform="translate(511.70 78.95)" stroke-width="0.72" d="M19.02 -11.76 L19.02 -12.05 L19.30 -12.63 L19.59 -12.92 L20.17 -13.20 L21.32 -13.20 L21.90 -12.92 L22.19 -12.63 L22.48 -12.05 L22.48 -11.47 L22.19 -10.90 L21.61 -10.03 L18.73 -7.14 L22.77 -7.14"/>
<path transform="translate(511.70 104.80)" d="M5.95 -9.62 L1.37 -3.21 L8.24 -3.21 M5.95 -9.62 L5.95 0.00 M15.57 -5.04 L15.11 -5.95 L13.74 -6.41 L12.37 -6.41 L10.99 -5.95 L10.53 -5.04 L10.99 -4.12 L11.91 -3.66 L14.20 -3.21 L15.11 -2.75 L15.57 -1.83 L15.57 -1.37 L15.11 -0.46 L13.74 0.00 L12.37 0.00 L10.99 -0.46 L10.53 -1.37 M30.50 -8.24 L29.59 -9.16 L28.21 -9.62 L26.38 -9.62 L25.01 -9.16 L24.09 -8.24 L24.09 -7.33 L24.55 -6.41 L25.01 -5.95 L25.92 -5.50 L28.67 -4.58 L29.59 -4.12 L30.04 -3.66 L30.50 -2.75 L30.50 -1.37 L29.59 -0.46 L28.21 0.00 L26.38 0.00 L25.01 -0.46 L24.09 -1.37"/><path transform="translate(511.70 104.80)" stroke-width="0.72" d="M18.10 -11.76 L18.10 -12.05 L18.39 -12.63 L18.68 -12.92 L19.25 -13.20 L20.41 -13.20 L20.99 -12.92 L21.27 -12.63 L21.56 -12.05 L21.56 -11.47 L21.27 -10.90 L20.70 -10.03 L17.81 -7.14 L21.85 -7.14"/>
<path transform="translate(511.70 234.05)" d="M6.87 -9.62 L2.29 -9.62 L1.83 -5.50 L2.29 -5.95 L3.66 -6.41 L5.04 -6.41 L6.41 -5.95 L7.33 -5.04 L7.79 -3.66 L7.79 -2.75 L7.33 -1.37 L6.41 -0.46 L5.04 0.00 L3.66 0.00 L2.29 -0.46 L1.83 -0.92 L1.37 -1.83 M15.57 -5.04 L15.11 -5.95 L13.74 -6.41 L12.37 -6.41 L10.99 -5.95 L10.53 -5.04 L10.99 -4.12 L11.91 -3.66 L14.20 -3.21 L15.11 -2.75 L15.57 -1.83 L15.57 -1.37 L15.11 -0.46 L13.74 0.00 L12.37 0.00 L10.99 -0.46 L10.53 -1.37 M30.50 -8.24 L29.59 -9.16 L28.21 -9.62 L26.38 -9.62 L25.01 -9.16 L24.09 -8.24 L24.09 -7.33 L24.55 -6.41 L25.01 -5.95 L25.92 -5.50 L28.67 -4.58 L29.59 -4.12 L30.04 -3.66 L30.50 -2.75 L30.50 -1.37 L29.59 -0.46 L28.21 0.00 L26.38 0.00 L25.01 -0.46 L24.09 -1.37"/><path transform="translate(511.70 234.05)" stroke-width="0.72" d="M18.39 -13.20 L21.56 -13.20 L19.83 -10.90 L20.70 -10.90 L21.27 -10.61 L21.56 -10.32 L21.85 -9.45 L21.85 -8.88 L21.56 -8.01 L20.99 -7.43 L20.12 -7.14 L19.25 -7.14 L18.39 -7.43 L18.10 -7.72 L17.81 -8.30"/>
<path transform="translate(511.70 259.90)" d="M5.95 -9.62 L1.37 -3.21 L8.24 -3.21 M5.95 -9.62 L5.95 0.00 M10.99 -6.41 L10.99 3.21 M10.99 -5.04 L11.91 -5.95 L12.82 -6.41 L14.20 -6.41 L15.11 -5.95 L16.03 -5.04 L16.49 -3.66 L16.49 -2.75 L16.03 -1.37 L15.11 -0.46 L14.20 0.00 L12.82 0.00 L11.91 -0.46 L10.99 -1.37 M25.46 -9.62 L25.46 0.00 M25.46 -9.62 L29.59 -9.62 L30.96 -9.16 L31.42 -8.70 L31.88 -7.79 L31.88 -6.41 L31.42 -5.50 L30.96 -5.04 L29.59 -4.58 L25.46 -4.58"/><path transform="translate(511.70 259.90)" stroke-width="0.72" d="M19.59 -12.05 L20.17 -12.34 L21.04 -13.20 L21.04 -7.14 M35.56 -11.18 L34.98 -10.90 L34.40 -10.32 L34.12 -9.45 L34.12 -8.88 L34.40 -8.01 L34.98 -7.43 L35.56 -7.14 L36.42 -7.14 L37.00 -7.43 L37.58 -8.01 L37.87 -8.88 L37.87 -9.45 L37.58 -10.32 L37.00 -10.90 L36.42 -11.18 L35.56 -11.18"/>
<path transform="translate(511.70 285.75)" d="M5.95 -9.62 L1.37 -3.21 L8.24 -3.21 M5.95 -9.62 L5.95 0.00 M10.99 -6.41 L10.99 3.21 M10.99 -5.04 L11.91 -5.95 L12.82 -6.41 L14.20 -6.41 L15.11 -5.95 L16.03 -5.04 L16.49 -3.66 L16.49 -2.75 L16.03 -1.37 L15.11 -0.46 L14.20 0.00 L12.82 0.00 L11.91 -0.46 L10.99 -1.37 M25.46 -9.62 L25.46 0.00 M25.46 -9.62 L29.59 -9.62 L30.96 -9.16 L31.42 -8.70 L31.88 -7.79 L31.88 -6.41 L31.42 -5.50 L30.96 -5.04 L29.59 -4.58 L25.46 -4.58"/><path transform="translate(511.70 285.75)" stroke-width="0.72" d="M19.30 -13.20 L22.48 -13.20 L20.75 -10.90 L21.61 -10.90 L22.19 -10.61 L22.48 -10.32 L22.77 -9.45 L22.77 -8.88 L22.48 -8.01 L21.90 -7.43 L21.04 -7.14 L20.17 -7.14 L19.30 -7.43 L19.02 -7.72 L18.73 -8.30 M35.56 -11.18 L34.98 -10.90 L34.40 -10.32 L34.12 -9.45 L34.12 -8.88 L34.40 -8.01 L34.98 -7.43 L35.56 -7.14 L36.42 -7.14 L37.00 -7.43 L37.58 -8.01 L37.87 -8.88 L37.87 -9.45 L37.58 -10.32 L37.00 -10.90 L36.42 -11.18 L35.56 -11.18"/>
<path transform="translate(511.70 311.60)" d="M5.95 -9.62 L1.37 -3.21 L8.24 -3.21 M5.95 -9.62 L5.95 0.00 M15.57 -5.04 L15.11 -5.95 L13.74 -6.41 L12.37 -6.41 L10.99 -5.95 L10.53 -5.04 L10.99 -4.12 L11.91 -3.66 L14.20 -3.21 L15.11 -2.75 L15.57 -1.83 L15.57 -1.37 L15.11 -0.46 L13.74 0.00 L12.37 0.00 L10.99 -0.46 L10.53 -1.37 M36.27 -8.24 L35.36 -9.16 L33.98 -9.62 L32.15 -9.62 L30.78 -9.16 L29.86 -8.24 L29.86 -7.33 L30.32 -6.41 L30.78 -5.95 L31.69 -5.50 L34.44 -4.58 L35.36 -4.12 L35.82 -3.66 L36.27 -2.75 L36.27 -1.37 L35.36 -0.46 L33.98 0.00 L32.15 0.00 L30.78 -0.46 L29.86 -1.37"/><path transform="translate(511.70 311.60)" stroke-width="0.72" d="M18.10 -11.76 L18.10 -12.05 L18.39 -12.63 L18.68 -12.92 L19.25 -13.20 L20.41 -13.20 L20.99 -12.92 L21.27 -12.63 L21.56 -12.05 L21.56 -11.47 L21.27 -10.90 L20.70 -10.03 L17.81 -7.14 L21.85 -7.14 M24.45 -12.05 L25.03 -12.34 L25.89 -13.20 L25.89 -7.14"/>
<path transform="translate(410.50 104.80)" d="M8.24 -7.33 L7.79 -8.24 L6.87 -9.16 L5.95 -9.62 L4.12 -9.62 L3.21 -9.16 L2.29 -8.24 L1.83 -7.33 L1.37 -5.95 L1.37 -3.66 L1.83 -2.29 L2.29 -1.37 L3.21 -0.46 L4.12 0.00 L5.95 0.00 L6.87 -0.46 L7.79 -1.37 L8.24 -2.29 M16.49 -6.41 L16.49 0.00 M16.49 -5.04 L15.57 -5.95 L14.66 -6.41 L13.28 -6.41 L12.37 -5.95 L11.45 -5.04 L10.99 -3.66 L10.99 -2.75 L11.45 -1.37 L12.37 -0.46 L13.28 0.00 L14.66 0.00 L15.57 -0.46 L16.49 -1.37 M27.48 -9.62 L27.48 0.00 M31.14 -9.62 L31.14 0.00"/>
<path transform="translate(410.50 285.75)" d="M8.24 -7.33 L7.79 -8.24 L6.87 -9.16 L5.95 -9.62 L4.12 -9.62 L3.21 -9.16 L2.29 -8.24 L1.83 -7.33 L1.37 -5.95 L1.37 -3.66 L1.83 -2.29 L2.29 -1.37 L3.21 -0.46 L4.12 0.00 L5.95 0.00 L6.87 -0.46 L7.79 -1.37 L8.24 -2.29 M16.49 -6.41 L16.49 0.00 M16.49 -5.04 L15.57 -5.95 L14.66 -6.41 L13.28 -6.41 L12.37 -5.95 L11.45 -5.04 L10.99 -3.66 L10.99 -2.75 L11.45 -1.37 L12.37 -0.46 L13.28 0.00 L14.66 0.00 L15.57 -0.46 L16.49 -1.37 M27.48 -9.62 L27.48 0.00"/>
<path transform="translate(201.00 301.70)" d="M3.71 -8.44 L3.04 -7.76 L2.36 -6.75 L1.69 -5.40 L1.35 -3.71 L1.35 -2.36 L1.69 -0.68 L2.36 0.68 L3.04 1.69 L3.71 2.36 M6.75 -5.74 L7.43 -6.08 L8.44 -7.09 L8.44 0.00 M12.49 -8.44 L13.16 -7.76 L13.84 -6.75 L14.51 -5.40 L14.85 -3.71 L14.85 -2.36 L14.51 -0.68 L13.84 0.68 L13.16 1.69 L12.49 2.36"/>
<path transform="translate(363.40 249.70)" d="M3.71 -8.44 L3.04 -7.76 L2.36 -6.75 L1.69 -5.40 L1.35 -3.71 L1.35 -2.36 L1.69 -0.68 L2.36 0.68 L3.04 1.69 L3.71 2.36 M6.08 -5.40 L6.08 -5.74 L6.41 -6.41 L6.75 -6.75 L7.43 -7.09 L8.78 -7.09 L9.45 -6.75 L9.79 -6.41 L10.12 -5.74 L10.12 -5.06 L9.79 -4.39 L9.11 -3.38 L5.74 0.00 L10.46 0.00 M12.49 -8.44 L13.16 -7.76 L13.84 -6.75 L14.51 -5.40 L14.85 -3.71 L14.85 -2.36 L14.51 -0.68 L13.84 0.68 L13.16 1.69 L12.49 2.36"/>
</g>
<path d="M451.0 53.10 H508.3" stroke="#f00" stroke-width="1.05" fill="none" stroke-dasharray="8.3 7.5"/>
<path d="M451.0 78.95 H508.3" stroke="#f00" stroke-width="1.05" fill="none" stroke-dasharray="1.6 3.9"/>
<path d="M451.0 104.80 H508.3" stroke="#f00" stroke-width="1.05" fill="none"/>
<path d="M451.0 234.05 H508.3" stroke="#000" stroke-width="1.05" fill="none" stroke-dasharray="8.5 3.5 2.4 3.4"/>
<path d="M451.0 259.90 H508.3" stroke="#000" stroke-width="1.05" fill="none" stroke-dasharray="8.3 7.5"/>
<path d="M451.0 285.75 H508.3" stroke="#000" stroke-width="1.05" fill="none" stroke-dasharray="1.6 3.9"/>
<path d="M451.0 311.60 H508.3" stroke="#000" stroke-width="1.05" fill="none"/>
</svg>
</body></html>
